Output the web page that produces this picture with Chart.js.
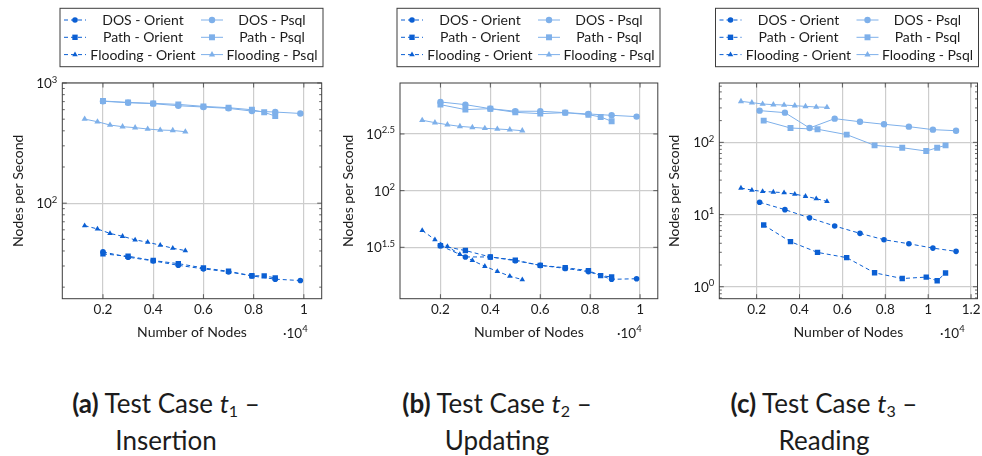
<!DOCTYPE html>
<html>
<head>
<meta charset="utf-8">
<script src="https://cdn.jsdelivr.net/npm/chart.js@4.4.1/dist/chart.umd.min.js"></script>
<style>
  body { margin: 0; background: #fff; }
  #wrap { position: relative; width: 982px; height: 456px; overflow: hidden; font-family: Lato, sans-serif; color: #1c1c1c; }
  canvas { position: absolute; top: 0; }
  .cap { position: absolute; top: 385px; width: 300px; text-align: center; font-size: 26px; line-height: 37px; }
  .cap b { font-weight: 700; }
  .cap sub { font-size: 16px; vertical-align: -4px; line-height: 0; }
</style>
</head>
<body>
<div id="wrap">
  <canvas id="insertion" width="330" height="350" style="left:0px"></canvas>
  <canvas id="updating" width="332" height="350" style="left:330px"></canvas>
  <canvas id="reading" width="327" height="350" style="left:655px"></canvas>
  <div class="cap" style="left:16px"><b>(a)</b> Test Case <i>t</i><sub>1</sub> –<br>Insertion</div>
  <div class="cap" style="left:347px"><b>(b)</b> Test Case <i>t</i><sub>2</sub> –<br>Updating</div>
  <div class="cap" style="left:674px"><b>(c)</b> Test Case <i>t</i><sub>3</sub> –<br>Reading</div>
</div>
<script>
const seriesLabels = ['DOS - Orient', 'Path - Orient', 'Flooding - Orient', 'DOS - Psql', 'Path - Psql', 'Flooding - Psql'];

// number of nodes, in units of 10^4
const dosNodes = [0.2, 0.3, 0.4, 0.5, 0.6, 0.7, 0.793, 0.886, 0.986];
const pathNodes = [0.2, 0.3, 0.4, 0.5, 0.6, 0.7, 0.793, 0.842, 0.886];
const floodNodes = [0.127, 0.178, 0.228, 0.278, 0.328, 0.378, 0.428, 0.478, 0.528];
const dosNodesRead = [0.214, 0.332, 0.447, 0.564, 0.682, 0.794, 0.91, 1.022, 1.13];
const pathNodesRead = [0.233, 0.358, 0.484, 0.62, 0.75, 0.879, 0.991, 1.042, 1.081];

// t1 - insertion (nodes per second)
const insDosOrient = [39.3, 35.5, 33.1, 30.4, 28.4, 26.8, 24.8, 23.3, 22.7];
const insPathOrient = [37.8, 36.2, 33.3, 31.4, 28.9, 27.1, 24.9, 24.8, 23.9];
const insFloodOrient = [65, 61, 56, 53, 49.5, 47.3, 44.7, 42.2, 40.3];
const insDosPsql = [705, 685, 673, 647, 631, 615, 584, 573, 558];
const insPathPsql = [708, 690, 677, 664, 639, 623, 599, 570, 531];
const insFloodPsql = [501, 476, 447, 433, 425, 414, 406, 403, 393];

// t2 - updating
const updDosOrient = [32.7, 26.0, 26.0, 24.1, 21.9, 20.6, 19.3, 16.5, 16.7];
const updPathOrient = [32.7, 29.6, 26.0, 24.4, 21.9, 20.9, 19.7, 17.8, 17.3];
const updFloodOrient = [44.5, 37, 32.2, 27.4, 24.2, 21.5, 19.4, 17.6, 16.4];
const updDosPsql = [606, 574, 529, 502, 502, 488, 475, 462, 450];
const updPathPsql = [574, 519, 529, 491, 478, 488, 468, 447, 409];
const updFloodPsql = [418, 398, 382, 369, 362, 355, 350, 345, 338];

// t3 - reading
const readDosOrient = [14.8, 11.7, 9.0, 6.94, 5.49, 4.48, 3.94, 3.43, 3.09];
const readPathOrient = [7.16, 4.21, 2.99, 2.53, 1.56, 1.30, 1.36, 1.21, 1.55];
const readFloodOrient = [23.3, 21.8, 20.9, 20.5, 20.1, 19.2, 17.9, 16.6, 15.2];
const readDosPsql = [275, 258, 158, 213, 193, 178, 165, 150, 145];
const readPathPsql = [200, 158, 152, 128, 90.9, 84.3, 75.8, 84.3, 90.9];
const readFloodPsql = [370, 355, 340, 333, 329, 322, 315, 309, 306];

const xTicks = [0.2, 0.4, 0.6, 0.8, 1];
const xTicksRead = [0.2, 0.4, 0.6, 0.8, 1, 1.2];

const darkBlue = '#0b5fd3';
const lightBlue = '#7eb0ea';
const ink = '#1c1c1c';
const frameColor = '#3d3d3d';

const seriesStyle = [
  { color: darkBlue, shape: 'circle', radius: 2.8, dash: [4, 3] },
  { color: darkBlue, shape: 'rect', radius: 3.8, dash: [4, 3] },
  { color: darkBlue, shape: 'triangle', radius: 3.2, dash: [4, 3] },
  { color: lightBlue, shape: 'circle', radius: 3.2, dash: [] },
  { color: lightBlue, shape: 'rect', radius: 4.2, dash: [] },
  { color: lightBlue, shape: 'triangle', radius: 3.6, dash: [] },
];

const panels = [
  {
    id: 'insertion', width: 330, left: 62.3, right: 321.7,
    xMin: 0.038, xMax: 1.071, yMin: 16.03, yMax: 1000,
    xTicks: xTicks, yMajor: [100, 1000], minor: true,
    legendLeft: 60, yTitleX: 18.3, expLeft: 283,
    xs: [dosNodes, pathNodes, floodNodes, dosNodes, pathNodes, floodNodes],
    ys: [insDosOrient, insPathOrient, insFloodOrient, insDosPsql, insPathPsql, insFloodPsql],
  },
  {
    id: 'updating', width: 332, left: 70, right: 329.3,
    xMin: 0.038, xMax: 1.071, yMin: 11.13, yMax: 891,
    xTicks: xTicks, yMajor: [31.623, 100, 316.23], minor: false,
    legendLeft: 67, yTitleX: 18.3, expLeft: 287,
    xs: [dosNodes, pathNodes, floodNodes, dosNodes, pathNodes, floodNodes],
    ys: [updDosOrient, updPathOrient, updFloodOrient, updDosPsql, updPathPsql, updFloodPsql],
  },
  {
    id: 'reading', width: 327, left: 64.3, right: 322.5,
    xMin: 0.026, xMax: 1.23, yMin: 0.683, yMax: 664,
    xTicks: xTicksRead, yMajor: [1, 10, 100], minor: true,
    legendLeft: 60.5, yTitleX: 19, expLeft: 285,
    xs: [dosNodesRead, pathNodesRead, floodNodes, dosNodesRead, pathNodesRead, floodNodes],
    ys: [readDosOrient, readPathOrient, readFloodOrient, readDosPsql, readPathPsql, readFloodPsql],
  },
];

function minorTicks(p) {
  const out = [];
  if (!p.minor) return out;
  for (let e = Math.floor(Math.log10(p.yMin)); e <= Math.ceil(Math.log10(p.yMax)); e++) {
    for (let m = 2; m <= 9; m++) {
      const v = m * Math.pow(10, e);
      if (v > p.yMin && v < p.yMax) out.push(v);
    }
  }
  return out;
}

function drawPower(ctx, xRight, y, exp) {
  ctx.font = '13.5px Lato';
  const bw = ctx.measureText('10').width;
  ctx.font = '9.5px Lato';
  const ew = ctx.measureText(exp).width;
  const x0 = xRight - bw - ew;
  ctx.textAlign = 'left';
  ctx.textBaseline = 'alphabetic';
  ctx.font = '13.5px Lato';
  ctx.fillText('10', x0, y + 5);
  ctx.font = '9.5px Lato';
  ctx.fillText(exp, x0 + bw, y - 0.5);
}

function decor(p) {
  return {
    id: 'decor',
    afterDatasetsDraw(chart) {
      const { ctx, chartArea: a, scales } = chart;
      const x = scales.x, y = scales.y;
      ctx.save();

      // inner tick marks, pgfplots style
      ctx.strokeStyle = frameColor;
      ctx.lineWidth = 0.8;
      ctx.beginPath();
      p.xTicks.forEach(v => {
        const px = x.getPixelForValue(v);
        ctx.moveTo(px, a.bottom); ctx.lineTo(px, a.bottom - 4.5);
        ctx.moveTo(px, a.top); ctx.lineTo(px, a.top + 4.5);
      });
      p.yMajor.forEach(v => {
        const py = y.getPixelForValue(v);
        ctx.moveTo(a.left, py); ctx.lineTo(a.left + 4.5, py);
        ctx.moveTo(a.right, py); ctx.lineTo(a.right - 4.5, py);
      });
      minorTicks(p).forEach(v => {
        const py = y.getPixelForValue(v);
        ctx.moveTo(a.left, py); ctx.lineTo(a.left + 2.5, py);
        ctx.moveTo(a.right, py); ctx.lineTo(a.right - 2.5, py);
      });
      ctx.stroke();
      ctx.lineWidth = 1;
      ctx.strokeRect(a.left, a.top, a.width, a.height);

      // tick labels
      ctx.fillStyle = ink;
      ctx.font = '13.5px Lato';
      ctx.textAlign = 'center';
      ctx.textBaseline = 'alphabetic';
      p.xTicks.forEach(v => {
        ctx.fillText(String(+v.toFixed(2)), x.getPixelForValue(v), a.bottom + 15.3);
      });
      p.yMajor.forEach(v => {
        drawPower(ctx, a.left - 5, y.getPixelForValue(v), String(+Math.log10(v).toFixed(2)));
      });

      // axis titles
      ctx.font = '14px Lato';
      ctx.textAlign = 'center';
      ctx.fillText('Number of Nodes', (a.left + a.right) / 2, 337);
      ctx.save();
      ctx.translate(p.yTitleX, (a.top + a.bottom) / 2);
      ctx.rotate(-Math.PI / 2);
      ctx.textBaseline = 'middle';
      ctx.fillText('Nodes per Second', 0, 0);
      ctx.restore();
      ctx.textAlign = 'left';
      ctx.font = '13.5px Lato';
      ctx.fillText('·10', p.expLeft, 338);
      const w = ctx.measureText('·10').width;
      ctx.font = '9.5px Lato';
      ctx.fillText('4', p.expLeft + w, 332);

      // legend
      const lx = p.legendLeft, ly = 8.3;
      ctx.strokeStyle = frameColor;
      ctx.lineWidth = 1;
      ctx.strokeRect(lx, ly, 263, 58.4);
      chart.data.datasets.forEach((ds, i) => {
        const col = Math.floor(i / 3), row = i % 3;
        const cy = 20 + row * 17.3;
        const mx = lx + (col ? 152 : 15);
        ctx.strokeStyle = ds.borderColor;
        ctx.setLineDash(ds.borderDash);
        ctx.beginPath();
        ctx.moveTo(mx - 11, cy); ctx.lineTo(mx + 11, cy);
        ctx.stroke();
        ctx.setLineDash([]);
        ctx.fillStyle = ds.pointBackgroundColor;
        Chart.helpers.drawPoint(ctx, { pointStyle: ds.pointStyle, radius: ds.pointRadius, rotation: 0, borderWidth: 0 }, mx, cy);
        ctx.fillStyle = ink;
        ctx.font = '14px Lato';
        ctx.textAlign = 'center';
        ctx.textBaseline = 'middle';
        ctx.fillText(ds.label, lx + (col ? 212 : 83), cy + 0.5);
      });
      ctx.restore();
    },
  };
}

function renderPanel(p) {
  const datasets = seriesLabels.map((label, i) => {
    const s = seriesStyle[i];
    return {
      label: label,
      data: p.xs[i].map((xv, k) => ({ x: xv, y: p.ys[i][k] })),
      showLine: true,
      borderColor: s.color,
      borderWidth: 1,
      borderDash: s.dash,
      pointStyle: s.shape,
      pointRadius: s.radius,
      pointBorderWidth: 0,
      pointBackgroundColor: s.color,
      pointBorderColor: s.color,
      tension: 0,
    };
  });
  new Chart(document.getElementById(p.id), {
    type: 'scatter',
    data: { datasets: datasets },
    options: {
      responsive: false,
      animation: false,
      events: [],
      layout: {
        padding: { left: p.left, right: p.width - p.right, top: 83, bottom: 350 - 298.7 },
      },
      plugins: { legend: { display: false }, tooltip: { enabled: false } },
      scales: {
        x: {
          type: 'linear', min: p.xMin, max: p.xMax,
          afterBuildTicks: scale => { scale.ticks = p.xTicks.map(v => ({ value: v })); },
          ticks: { display: false },
          grid: { color: '#cdcdcd', lineWidth: 1.2, drawTicks: false },
          border: { display: false },
        },
        y: {
          type: 'logarithmic', min: p.yMin, max: p.yMax,
          afterBuildTicks: scale => { scale.ticks = p.yMajor.map(v => ({ value: v })); },
          ticks: { display: false },
          grid: { color: '#cdcdcd', lineWidth: 1.2, drawTicks: false },
          border: { display: false },
        },
      },
    },
    plugins: [decor(p)],
  });
}

panels.forEach(renderPanel);
</script>
</body>
</html>
